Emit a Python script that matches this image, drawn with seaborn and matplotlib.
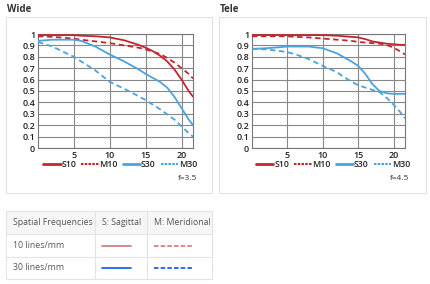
import matplotlib
matplotlib.use("Agg")
import matplotlib.pyplot as plt
import seaborn as sns
import pandas as pd
from matplotlib.patches import Rectangle
from matplotlib.lines import Line2D

sns.set_theme(style="white")
plt.rcParams['font.family'] = ['Open Sans', 'DejaVu Sans']

# ---- data ----
wide_x = [0, 2, 4, 5, 6, 8, 10, 12, 14, 15, 16, 17, 18, 19, 20, 21, 21.6]
wide_s10 = [0.99, 0.99, 0.99, 0.99, 0.985, 0.98, 0.97, 0.945, 0.905, 0.88, 0.85, 0.81, 0.76, 0.69, 0.60, 0.50, 0.45]
wide_m10 = [0.98, 0.975, 0.965, 0.96, 0.95, 0.935, 0.92, 0.90, 0.88, 0.865, 0.845, 0.825, 0.79, 0.75, 0.70, 0.65, 0.61]
wide_s30 = [0.94, 0.95, 0.95, 0.95, 0.94, 0.89, 0.82, 0.76, 0.69, 0.65, 0.615, 0.58, 0.53, 0.45, 0.35, 0.25, 0.20]
wide_m30 = [0.93, 0.89, 0.83, 0.80, 0.76, 0.68, 0.58, 0.52, 0.455, 0.42, 0.38, 0.34, 0.295, 0.25, 0.19, 0.13, 0.10]

tele_x = [0, 2, 4, 5, 6, 8, 10, 12, 13, 14, 15, 16, 17, 18, 19, 20, 21, 21.6]
tele_s10 = [0.99, 0.99, 0.99, 0.99, 0.99, 0.99, 0.99, 0.985, 0.98, 0.975, 0.97, 0.955, 0.935, 0.925, 0.915, 0.91, 0.905, 0.905]
tele_m10 = [0.98, 0.98, 0.98, 0.98, 0.975, 0.97, 0.96, 0.95, 0.945, 0.94, 0.93, 0.925, 0.92, 0.915, 0.905, 0.88, 0.845, 0.82]
tele_s30 = [0.87, 0.875, 0.885, 0.89, 0.89, 0.89, 0.875, 0.83, 0.795, 0.76, 0.72, 0.65, 0.56, 0.50, 0.48, 0.475, 0.475, 0.475]
tele_m30 = [0.87, 0.865, 0.85, 0.84, 0.825, 0.78, 0.72, 0.665, 0.62, 0.585, 0.55, 0.53, 0.51, 0.49, 0.44, 0.38, 0.31, 0.26]

series_names = ["S10", "M10", "S30", "M30"]
panel_titles = ["Wide", "Tele"]
f_labels = ["f=3.5", "f=4.5"]
x_ticks = [5, 10, 15, 20]
y_ticks = [0, 0.1, 0.2, 0.3, 0.4, 0.5, 0.6, 0.7, 0.8, 0.9, 1]
y_ticklabels = ["0", "0.1", "0.2", "0.3", "0.4", "0.5", "0.6", "0.7", "0.8", "0.9", "1"]

table_header = ["Spatial Frequencies", "S: Sagittal", "M: Meridional"]
table_rows = ["10 lines/mm", "30 lines/mm"]

RED = "#c4262e"
BLUE = "#4aa3de"
colors = [RED, RED, BLUE, BLUE]
dashed = [False, True, False, True]

W, H = 430, 284
fig = plt.figure(figsize=(W / 100, H / 100), dpi=100)
fig.patch.set_facecolor("white")

def fx(px):
    return px / W

def fy(py):
    return 1 - py / H

# panel boxes
for x0, x1 in [(6, 212), (219, 426)]:
    fig.patches.append(Rectangle((fx(x0), fy(193)), fx(x1 - x0), (193 - 17) / H,
                                 transform=fig.transFigure, facecolor="none",
                                 edgecolor="#e2e2e2", lw=0.8, zorder=0))

panels = [
    (wide_x, [wide_s10, wide_m10, wide_s30, wide_m30], (38, 193), 197),
    (tele_x, [tele_s10, tele_m10, tele_s30, tele_m30], (252, 405), 409),
]
title_x = [7, 220]

for i, (xs, ys, (l, r), fxpos) in enumerate(panels):
    ax = fig.add_axes([fx(l), fy(148), fx(r - l), (148 - 34) / H])
    ax.set_facecolor("white")
    for name, yv, c, d in zip(series_names, ys, colors, dashed):
        df = pd.DataFrame({"x": xs, "y": yv})
        sns.lineplot(data=df, x="x", y="y", ax=ax, color=c, lw=1.3,
                     linestyle=(0, (3, 2)) if d else "-", label=name, zorder=3)
    ax.set_xlim(0, 21.6)
    ax.set_ylim(0, 1)
    ax.set_xticks(x_ticks)
    ax.set_xticklabels([str(t) for t in x_ticks])
    ax.set_yticks(y_ticks)
    ax.set_yticklabels(y_ticklabels)
    ax.grid(True, color="#888888", lw=0.8)
    ax.set_axisbelow(True)
    for s in ax.spines.values():
        s.set_color("#777777")
        s.set_linewidth(0.8)
    ax.tick_params(axis="both", length=0, pad=2, labelsize=6.5, colors="#222222")
    for lab in ax.get_xticklabels() + ax.get_yticklabels():
        lab.set_fontweight("semibold")
    ax.set_xlabel("")
    ax.set_ylabel("")
    leg = ax.legend(ncol=4, loc="center", bbox_to_anchor=(0.53, -0.145),
                    frameon=False, fontsize=6.3, handlelength=2.0,
                    handletextpad=0.1, columnspacing=0.55, borderpad=0.1)
    for t in leg.get_texts():
        t.set_fontweight("semibold")
        t.set_color("#222222")
    for h, d in zip(leg.get_lines(), dashed):
        h.set_linewidth(2.0)
        if d:
            h.set_linestyle((0, (1.2, 0.6)))
            h.set_linewidth(1.5)
    fig.text(fx(fxpos), fy(178), f_labels[i], fontsize=6,
             color="#333333", ha="right", va="center")
    fig.text(fx(title_x[i]), fy(9), panel_titles[i], fontsize=7, fontweight="bold",
             color="#333333", ha="left", va="center")

# ---- table ----
tx0, tx1 = 6, 212
col_edges = [6, 95, 147, 212]
row_edges = [211, 234, 257, 279]
fig.patches.append(Rectangle((fx(tx0), fy(row_edges[1])), fx(tx1 - tx0),
                             (row_edges[1] - row_edges[0]) / H,
                             transform=fig.transFigure, facecolor="#f6f6f6",
                             edgecolor="none", zorder=0))
fig.patches.append(Rectangle((fx(tx0), fy(row_edges[-1])), fx(tx1 - tx0),
                             (row_edges[-1] - row_edges[0]) / H,
                             transform=fig.transFigure, facecolor="none",
                             edgecolor="#e4e4e4", lw=0.8, zorder=1))
for ry in row_edges[1:-1]:
    fig.lines.append(Line2D([fx(tx0), fx(tx1)], [fy(ry), fy(ry)],
                            transform=fig.transFigure, color="#e4e4e4", lw=0.8))
for cx in col_edges[1:-1]:
    fig.lines.append(Line2D([fx(cx), fx(cx)], [fy(row_edges[0]), fy(row_edges[-1])],
                            transform=fig.transFigure, color="#e4e4e4", lw=0.8))
for j, txt in enumerate(table_header):
    fig.text(fx(col_edges[j] + 7), fy((row_edges[0] + row_edges[1]) / 2), txt,
             fontsize=6.3, color="#555555", ha="left", va="center")
sample_colors = ["#d97f80", "#1a63f0"]
for k, txt in enumerate(table_rows):
    yc = (row_edges[k + 1] + row_edges[k + 2]) / 2
    fig.text(fx(col_edges[0] + 7), fy(yc), txt, fontsize=6.3, color="#555555",
             ha="left", va="center")
    fig.lines.append(Line2D([fx(102), fx(131)], [fy(yc), fy(yc)],
                            transform=fig.transFigure, color=sample_colors[k], lw=1.3))
    fig.lines.append(Line2D([fx(154), fx(193)], [fy(yc), fy(yc)],
                            transform=fig.transFigure, color=sample_colors[k], lw=1.3,
                            linestyle=(0, (2.5, 1.2))))

fig.savefig("out.png", dpi=100, facecolor="white")
